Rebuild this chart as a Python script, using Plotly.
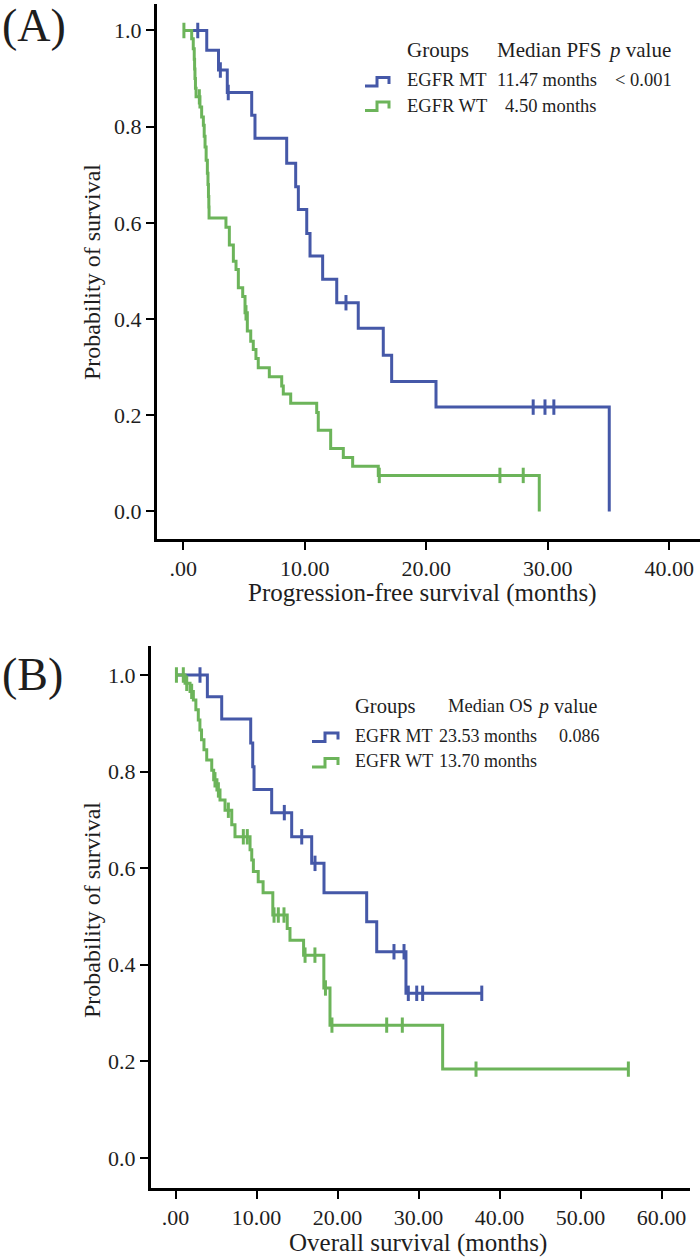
import plotly.graph_objects as go

# ---------------- data ----------------
# Panel A: progression-free survival
A_MT_event_t = [1.93, 2.90, 3.62, 5.63, 5.90, 8.51, 9.25, 9.47, 10.16, 10.43, 11.47, 12.63, 14.40, 16.46, 17.15, 20.80, 35.06]
A_MT_event_s = [0.959, 0.918, 0.871, 0.824, 0.776, 0.724, 0.675, 0.628, 0.578, 0.531, 0.483, 0.434, 0.381, 0.325, 0.270, 0.217, 0.0]
A_MT_censor = [1.19, 3.05, 3.70, 13.39, 28.80, 29.77, 30.50]

A_WT_event_t = [0.69, 0.82, 0.90, 0.93, 0.96, 1.00, 1.05, 1.37, 1.51, 1.65, 1.72, 1.79, 1.88, 1.98, 2.03, 2.07, 2.10, 2.12,
                3.51, 3.79, 4.12, 4.34, 4.53, 4.89, 5.08, 5.27, 5.55, 5.76, 5.98, 6.17, 7.08, 8.10, 8.23, 8.84,
                10.98, 11.11, 12.13, 13.17, 13.94, 16.05, 29.30]
A_WT_event_s = [0.983, 0.962, 0.940, 0.920, 0.900, 0.880, 0.862, 0.841, 0.820, 0.803, 0.780, 0.758, 0.730, 0.703, 0.680, 0.655, 0.633, 0.610,
                0.591, 0.554, 0.520, 0.503, 0.465, 0.447, 0.413, 0.375, 0.354, 0.337, 0.318, 0.299, 0.280, 0.261, 0.244, 0.225,
                0.206, 0.169, 0.131, 0.112, 0.094, 0.075, 0.0]
A_WT_censor = [0.05, 1.32, 5.16, 16.13, 26.06, 27.98]

# Panel B: overall survival
B_MT_event_t = [3.92, 5.69, 9.27, 9.52, 9.68, 11.86, 14.33, 16.80, 18.32, 23.59, 24.83, 28.44]
B_MT_event_s = [0.955, 0.909, 0.859, 0.810, 0.763, 0.715, 0.665, 0.610, 0.549, 0.489, 0.427, 0.341]
B_MT_censor = [3.01, 13.42, 15.57, 17.21, 26.96, 28.20, 28.73, 29.77, 30.50, 37.80]

B_WT_event_t = [1.16, 1.78, 2.19, 2.50, 2.80, 3.00, 3.20, 3.50, 3.84, 4.46, 4.70, 5.10, 5.48, 6.10, 6.93, 7.33,
                9.19, 9.40, 9.60, 10.20, 10.80, 12.00, 13.78, 14.12, 15.80, 18.30, 19.06, 32.97]
B_WT_event_s = [0.983, 0.966, 0.948, 0.928, 0.907, 0.886, 0.866, 0.845, 0.824, 0.803, 0.783, 0.762, 0.741, 0.720, 0.690, 0.665,
                0.638, 0.617, 0.593, 0.572, 0.549, 0.503, 0.475, 0.451, 0.420, 0.352, 0.275, 0.184]
B_WT_censor = [0.10, 0.95, 1.37, 1.98, 4.86, 5.28, 6.51, 8.36, 8.85, 12.15, 12.68, 13.38, 15.98, 17.20, 18.50, 19.30,
               26.06, 27.99, 37.09, 55.90]

groups = ["EGFR MT", "EGFR WT"]
A_medians = ["11.47 months", "4.50 months"]
A_pvalue = "< 0.001"
B_medians = ["23.53 months", "13.70 months"]
B_pvalue = "0.086"

A_xticks = [0, 10, 20, 30, 40]
A_xticktext = [".00", "10.00", "20.00", "30.00", "40.00"]
B_xticks = [0, 10, 20, 30, 40, 50, 60]
B_xticktext = [".00", "10.00", "20.00", "30.00", "40.00", "50.00", "60.00"]
yticks = [0.0, 0.2, 0.4, 0.6, 0.8, 1.0]
yticktext = ["0.0", "0.2", "0.4", "0.6", "0.8", "1.0"]

# ---------------- style ----------------
W, H = 700, 1259
BLUE = "#4558A8"
GREEN = "#6CB45A"
FONT = "Liberation Serif"
TXT = "#1e1e1e"


def px(x):
    return x / W


def py(y):
    return 1 - y / H


def surv_at(t, ev_t, ev_s):
    s = 1.0
    for et, es in zip(ev_t, ev_s):
        if et <= t:
            s = es
    return s


def km_traces(ev_t, ev_s, censor, color, xaxis, yaxis, end=None):
    assert len(ev_t) == len(ev_s)
    xs = [0.0] + list(ev_t)
    ys = [1.0] + list(ev_s)
    if end is not None:
        xs.append(end)
        ys.append(ys[-1])
    line = go.Scatter(x=xs, y=ys, mode="lines", line=dict(color=color, width=3, shape="hv"),
                      xaxis=xaxis, yaxis=yaxis, showlegend=False, hoverinfo="skip")
    cy = [surv_at(c, ev_t, ev_s) for c in censor]
    marks = go.Scatter(x=censor, y=cy, mode="markers",
                       marker=dict(symbol="line-ns", size=11, line=dict(color=color, width=3)),
                       xaxis=xaxis, yaxis=yaxis, showlegend=False, hoverinfo="skip")
    return [line, marks]


fig = go.Figure()
for tr in km_traces(A_MT_event_t, A_MT_event_s, A_MT_censor, BLUE, "x", "y"):
    fig.add_trace(tr)
for tr in km_traces(A_WT_event_t, A_WT_event_s, A_WT_censor, GREEN, "x", "y"):
    fig.add_trace(tr)
for tr in km_traces(B_MT_event_t, B_MT_event_s, B_MT_censor, BLUE, "x2", "y2", end=B_MT_censor[-1]):
    fig.add_trace(tr)
for tr in km_traces(B_WT_event_t, B_WT_event_s, B_WT_censor, GREEN, "x2", "y2", end=B_WT_censor[-1]):
    fig.add_trace(tr)

axis_common = dict(showline=True, linewidth=3, linecolor="black", ticks="outside", ticklen=8,
                   tickwidth=1.5, tickcolor="black", showgrid=False, zeroline=False,
                   tickfont=dict(family=FONT, size=22, color=TXT))

fig.update_layout(
    width=W, height=H, margin=dict(l=0, r=0, t=0, b=0),
    paper_bgcolor="white", plot_bgcolor="white", showlegend=False,
    xaxis=dict(domain=[px(157), px(700)], range=[-2.165, 42.53], anchor="y",
               tickvals=A_xticks, ticktext=A_xticktext, **axis_common),
    yaxis=dict(domain=[py(539), py(3.6)], range=[-0.0572, 1.0559], anchor="x",
               tickvals=yticks, ticktext=yticktext, **axis_common),
    xaxis2=dict(domain=[px(151), px(690)], range=[-3.04, 63.51], anchor="y2",
                tickvals=B_xticks, ticktext=B_xticktext, **axis_common),
    yaxis2=dict(domain=[py(1187.7), py(646)], range=[-0.0615, 1.060], anchor="x2",
                tickvals=yticks, ticktext=yticktext, **axis_common),
)


def note(text, x, y, size, xanchor="left", angle=0):
    fig.add_annotation(text=text, x=px(x), y=py(y), xref="paper", yref="paper",
                       xanchor=xanchor, yanchor="middle", showarrow=False, textangle=angle,
                       font=dict(family=FONT, size=size, color=TXT))


# panel labels
note("(A)", 0, 25, 46)
note("(B)", 0, 674, 46)

# axis titles
note("Probability of survival", 92, 272, 24, xanchor="center", angle=-90)
note("Progression-free survival (months)", 422, 593, 25, xanchor="center")
note("Probability of survival", 92, 910, 24, xanchor="center", angle=-90)
note("Overall survival (months)", 418, 1243, 25, xanchor="center")

# legend A
note("Groups", 405, 50, 21)
note("Median PFS", 495, 50, 21)
note("<i>p</i> value", 606, 50, 21)
note(groups[0], 405, 80, 18.5)
note(A_medians[0], 495, 80, 18.5)
note(A_pvalue, 613, 80, 18.5)
note(groups[1], 405, 106.5, 18.5)
note(A_medians[1], 503, 106.5, 18.5)

# legend B
note("Groups", 353, 706, 20.5)
note("Median OS", 446, 706, 18.5)
note("<i>p</i> value", 535, 706, 20)
note(groups[0], 353, 735.5, 18)
note(B_medians[0], 437, 735.5, 18)
note(B_pvalue, 557, 735.5, 18)
note(groups[1], 353, 761, 18)
note(B_medians[1], 437, 761, 18)


def glyph(x0, x1, ytop, ybot, color):
    xm = x0 + (x1 - x0) * 0.5
    path = (f"M {px(x0)},{py(ybot)} L {px(xm)},{py(ybot)} L {px(xm)},{py(ytop)} "
            f"L {px(x1)},{py(ytop)} L {px(x1)},{py(ybot - 2)}")
    fig.add_shape(type="path", path=path, xref="paper", yref="paper",
                  line=dict(color=color, width=3))


glyph(365, 389, 77.5, 86, BLUE)
glyph(365, 389, 102, 110.5, GREEN)
glyph(312, 338, 733, 741.5, BLUE)
glyph(312, 338, 758.5, 767, GREEN)

fig.write_html(
    "out.html",
    config={"displayModeBar": False},
    post_script="document.body.style.margin='0';document.body.style.padding='0';"
                "document.documentElement.style.overflow='hidden';",
)
